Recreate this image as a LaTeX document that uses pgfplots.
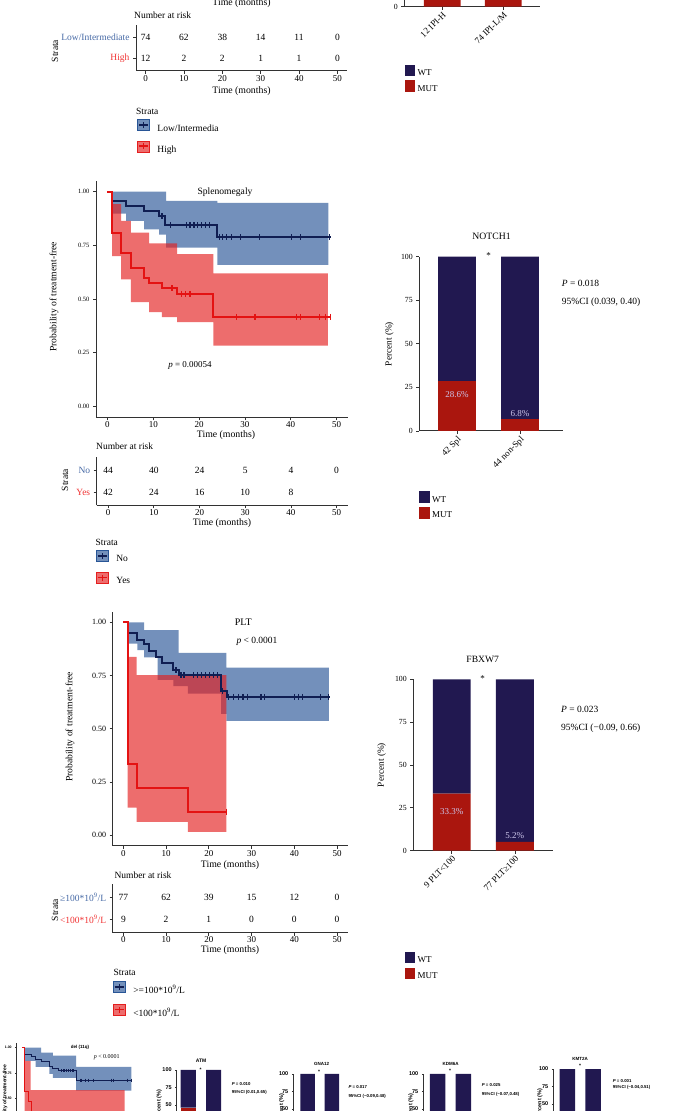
\documentclass[border=0pt]{standalone}
\usepackage{fontspec}
\setmainfont{Liberation Serif}
\newfontfamily\arialf{Liberation Sans}
\usepackage{pgfplots}
\pgfplotsset{compat=1.18}
\newcommand\fs[1]{\fontsize{#1}{#1}\selectfont}
\newcommand\tx[4]{\node[inner sep=0pt,#3] at (#1pt,#2pt) {#4};}
\definecolor{navyl}{RGB}{16,30,82}
\definecolor{redl}{RGB}{228,18,18}
\definecolor{bandb}{RGB}{40,85,150}
\definecolor{bandr}{RGB}{228,30,30}
\definecolor{wtc}{RGB}{33,24,80}
\definecolor{mutc}{RGB}{170,22,14}
\definecolor{axc}{RGB}{50,50,50}
\definecolor{bluelab}{RGB}{70,105,165}
\definecolor{redlab}{RGB}{240,50,50}
\definecolor{labc}{RGB}{205,198,235}
\pgfplotsset{
 gg/.style={scale only axis, axis x line=bottom, axis y line=left,
   axis line style={-, line width=1pt, draw=axc},
   tick align=outside, major tick length=3pt,
   every tick/.style={line width=0.7pt, draw=axc},
   tick label style={/pgf/number format/assume math mode=true}},
 km/.style={gg, xmin=-2.5, xmax=52.5, ymin=-0.05, ymax=1.05,
   xtick={0,10,20,30,40,50}, xticklabels={0,10,20,30,40,50},
   ytick={0,0.25,0.5,0.75,1}, yticklabels={0.00,0.25,0.50,0.75,1.00}},
 risk/.style={gg, xmin=-2.5, xmax=52.5, ymin=0.4, ymax=2.6,
   xtick={0,10,20,30,40,50}, xticklabels={0,10,20,30,40,50}, ytick={1,2},
   xticklabel style={font=\fs{9}, inner sep=1pt}, yticklabel style={font=\fs{9.5}},
   legend style={draw=none, fill=none, inner sep=0pt, outer sep=0pt, anchor=north west,
     font=\fs{9.5}, nodes={inner sep=0pt},
     /tikz/every odd column/.append style={column sep=7.7pt}},
   legend cell align=left},
 bars/.style={gg, ybar stacked, bar width=0.6, ymin=0, ymax=100, xtick={1,2},
   ytick={0,25,50,75,100}, yticklabels={0,25,50,75,100},
   yticklabel style={font=\fs{7.8}},
   xticklabel style={rotate=45, anchor=north east, font=\fs{9}, inner sep=1pt},
   legend style={draw=none, fill=none, inner sep=0pt, outer sep=0pt, anchor=north west,
     font=\fs{9}, nodes={inner sep=0pt}, row sep=3.6pt,
     /tikz/every odd column/.append style={column sep=3pt}},
   legend cell align=left},
 tiny/.style={axis line style={-, line width=0.5pt, draw=axc}, major tick length=1.5pt,
   every tick/.style={line width=0.4pt, draw=axc},
   yticklabel style={font=\arialf\bfseries\fs{5.5}}, xticklabels={}},
 nums/.style={only marks, mark=*, mark size=0pt, mark options={draw=none,fill=none},
   nodes near coords, point meta=explicit symbolic, forget plot,
   every node near coord/.append style={anchor=center, font=\fs{9.5}, text=black, inner sep=0pt}},
 legb/.style={legend image code/.code={
   \fill[bandb, fill opacity=0.65] (0pt,-2.2pt) rectangle (12.3pt,8.8pt);
   \draw[navyl, line width=1.5pt] (1.5pt,3.3pt) -- (10.8pt,3.3pt) (6.15pt,0.3pt) -- (6.15pt,6.3pt);}},
 legr/.style={legend image code/.code={
   \fill[bandr, fill opacity=0.65] (0pt,-2.2pt) rectangle (12.3pt,8.8pt);
   \draw[redl, line width=1.5pt] (1.5pt,3.3pt) -- (10.8pt,3.3pt) (6.15pt,0.3pt) -- (6.15pt,6.3pt);}},
 legwt/.style={legend image code/.code={\fill[wtc] (0pt,-2.35pt) rectangle (9.3pt,8.35pt);}},
 legmut/.style={legend image code/.code={\fill[mutc] (0pt,-2.35pt) rectangle (9.3pt,8.35pt);}},
 bandB/.style={fill=bandb, fill opacity=0.65, draw=none, forget plot},
 bandR/.style={fill=bandr, fill opacity=0.65, draw=none, forget plot},
}
\begin{document}
\begin{tikzpicture}
\begin{scope}
\clip (0pt,0pt) rectangle (689pt,1111pt);

% ---------- top risk table (cut panel) ----------
\begin{axis}[risk, at={(136pt,1040pt)}, width=211pt, height=46pt,
  yticklabels={\textcolor{redlab}{High},\textcolor{bluelab}{Low/Intermediate}},
  legend style={at={(axis description cs:0.005,-1.054)}, row sep=8pt}]
\addplot[nums] coordinates {(0,2)[74] (10,2)[62] (20,2)[38] (30,2)[14] (40,2)[11] (50,2)[0]
  (0,1)[12] (10,1)[2] (20,1)[2] (30,1)[1] (40,1)[1] (50,1)[0]};
\addlegendimage{legb}\addlegendentry{Low/Intermedia}
\addlegendimage{legr}\addlegendentry{High}
\end{axis}

% ---------- top-right bar (cut) ----------
\begin{axis}[bars, at={(404.3pt,1104.3pt)}, width=135.7pt, height=174.3pt, xmin=0.38, xmax=2.6,
  ytick={0}, yticklabels={0},
  xticklabels={12 IPI-H,74 IPI-L/M}, legend style={at={(axis description cs:0.005,-0.3325)}}]
\addplot[fill=mutc, draw=none, forget plot] coordinates {(1,16.7) (2,9.5)};
\addplot[fill=wtc, draw=none, forget plot] coordinates {(1,83.3) (2,90.5)};
\addlegendimage{legwt}\addlegendentry{WT}
\addlegendimage{legmut}\addlegendentry{MUT}
\end{axis}

% ---------- Splenomegaly KM ----------
\begin{axis}[km, at={(96pt,693.7pt)}, width=252pt, height=236.3pt,
  xticklabel style={font=\fs{9}, inner sep=1pt}, yticklabel style={font=\fs{6.5}}]
\addplot[bandB] coordinates {(0,1)(12.8,1)(12.8,0.957)(24,0.957)(24,0.948)(48.2,0.948)
  (48.2,0.659)(24,0.659)(24,0.74)(12.8,0.74)(12.8,0.80)(11.3,0.80)(11.3,0.825)(8,0.825)(8,0.864)(4.1,0.864)(4.1,0.898)(1,0.898)(1,1)(0,1)};
\addplot[bandR] coordinates {(0,1)(1,1)(1,0.942)(3,0.942)(3,0.864)(5.1,0.864)(5.1,0.81)(9.1,0.81)(9.1,0.76)(15.2,0.76)(15.2,0.71)(23.1,0.71)(23.1,0.62)(48.1,0.62)
  (48.1,0.284)(23.1,0.284)(23.1,0.393)(15.2,0.393)(15.2,0.416)(11.9,0.416)(11.9,0.44)(9.1,0.44)(9.1,0.486)(5.1,0.486)(5.1,0.592)(3,0.592)(3,0.70)(1,0.70)(1,1)(0,1)};
\addplot[const plot, navyl, line width=2pt, forget plot] coordinates {(0,1)(1,0.955)(4.1,0.932)(8,0.909)(11.3,0.886)(12.6,0.845)(24,0.789)(48.7,0.789)};
\addplot[only marks, mark=|, mark size=3pt, navyl, mark options={line width=1.2pt}, forget plot] coordinates {(11.9,0.886)(13.7,0.845)(17.2,0.845)(18.0,0.845)(18.9,0.845)(19.7,0.845)(20.6,0.845)(21.4,0.845)(22.3,0.845)(24.4,0.789)(25.1,0.789)(26.0,0.789)(27.1,0.789)(29.1,0.789)(33.1,0.789)(40.2,0.789)(42.1,0.789)(48.4,0.789)};
\addplot[const plot, redl, line width=2pt, forget plot] coordinates {(0,1)(1,0.81)(3,0.717)(5.1,0.643)(7.9,0.597)(9.1,0.573)(11.9,0.55)(15.2,0.525)(23.1,0.418)(48.7,0.418)};
\addplot[only marks, mark=|, mark size=3pt, redl, mark options={line width=1.2pt}, forget plot] coordinates {(14.1,0.55)(16.1,0.525)(17.1,0.525)(18.0,0.525)(28.1,0.418)(32.2,0.418)(41.2,0.418)(42.1,0.418)(46.2,0.418)(47.6,0.418)(48.6,0.418)};
\end{axis}

% ---------- Splenomegaly risk table ----------
\begin{axis}[risk, at={(96.7pt,605.7pt)}, width=251.3pt, height=48.6pt,
  yticklabels={\textcolor{redlab}{Yes},\textcolor{bluelab}{No}},
  legend style={at={(axis description cs:-0.003,-0.930)}, row sep=8.5pt}]
\addplot[nums] coordinates {(0,2)[44] (10,2)[40] (20,2)[24] (30,2)[5] (40,2)[4] (50,2)[0]
  (0,1)[42] (10,1)[24] (20,1)[16] (30,1)[10] (40,1)[8]};
\addlegendimage{legb}\addlegendentry{No}
\addlegendimage{legr}\addlegendentry{Yes}
\end{axis}

% ---------- NOTCH1 ----------
\begin{axis}[bars, at={(419.3pt,680pt)}, width=143.4pt, height=174.3pt, xmin=0.4, xmax=2.68,
  xticklabels={42 Spl,44 non-Spl}, legend style={at={(axis description cs:0,-0.346)}}]
\addplot[fill=mutc, draw=none, forget plot, nodes near coords, point meta=explicit symbolic,
  every node near coord/.append style={anchor=center, yshift=11pt, font=\fs{9}, text=labc}]
  coordinates {(1,28.6)[28.6\%] (2,6.8)[6.8\%]};
\addplot[fill=wtc, draw=none, forget plot] coordinates {(1,71.4) (2,93.2)};
\addlegendimage{legwt}\addlegendentry{WT}
\addlegendimage{legmut}\addlegendentry{MUT}
\end{axis}

% ---------- PLT KM ----------
\begin{axis}[km, at={(112.7pt,265pt)}, width=235pt, height=234.3pt,
  xticklabel style={font=\fs{9}, inner sep=1pt}, yticklabel style={font=\fs{8}}]
\addplot[bandB] coordinates {(0,1)(4.85,1)(4.85,0.964)(12.9,0.964)(12.9,0.857)(24.1,0.857)(24.1,0.788)(48.1,0.788)
  (48.1,0.537)(24.1,0.537)(24.1,0.57)(22.9,0.57)(22.9,0.665)(15.1,0.665)(15.1,0.70)(11.7,0.70)(11.7,0.73)(8,0.73)(8,0.835)(4.85,0.835)(4.85,0.87)(3.3,0.87)(3.3,0.90)(1,0.90)(1,1)(0,1)};
\addplot[bandR] coordinates {(0,1)(1,1)(1,0.838)(3.1,0.838)(3.1,0.752)(24.1,0.752)
  (24.1,0.016)(15.1,0.016)(15.1,0.063)(3.1,0.063)(3.1,0.13)(1,0.13)(1,1)(0,1)};
\addplot[const plot, navyl, line width=2pt, forget plot] coordinates {(0,1)(1,0.951)(3.3,0.917)(4.85,0.898)(6.1,0.865)(7.7,0.835)(9.15,0.81)(11.7,0.776)(13.1,0.751)(22.9,0.677)(24.2,0.65)(48.4,0.65)};
\addplot[only marks, mark=|, mark size=3pt, navyl, mark options={line width=1.2pt}, forget plot] coordinates {(12.3,0.776)(13.5,0.751)(14.2,0.751)(16.4,0.751)(17.3,0.751)(18.3,0.751)(19.2,0.751)(20.2,0.751)(21.1,0.751)(22.0,0.751)(23.2,0.677)(24.6,0.65)(25.8,0.65)(27.0,0.65)(28.0,0.65)(29.1,0.65)(32.2,0.65)(33.1,0.65)(40.1,0.65)(41.0,0.65)(42.0,0.65)(46.1,0.65)(48.1,0.65)};
\addplot[const plot, redl, line width=2pt, forget plot] coordinates {(0,1)(1,0.333)(3.1,0.222)(15.1,0.111)(24.2,0.111)};
\addplot[only marks, mark=|, mark size=3pt, redl, mark options={line width=1.2pt}, forget plot] coordinates {(24.2,0.111)};
\end{axis}

% ---------- PLT risk table ----------
\begin{axis}[risk, at={(112.7pt,178.3pt)}, width=235pt, height=48.4pt,
  yticklabels={\textcolor{redlab}{<100*10\textsuperscript{9}/L},\textcolor{bluelab}{≥100*10\textsuperscript{9}/L}},
  legend style={at={(axis description cs:0.001,-1.002)}, row sep=8.8pt}]
\addplot[nums] coordinates {(0,2)[77] (10,2)[62] (20,2)[39] (30,2)[15] (40,2)[12] (50,2)[0]
  (0,1)[9] (10,1)[2] (20,1)[1] (30,1)[0] (40,1)[0] (50,1)[0]};
\addlegendimage{legb}\addlegendentry{>=100*10\textsuperscript{9}/L}
\addlegendimage{legr}\addlegendentry{<100*10\textsuperscript{9}/L}
\end{axis}

% ---------- FBXW7 ----------
\begin{axis}[bars, at={(413.3pt,260.3pt)}, width=139.4pt, height=171.4pt, xmin=0.39, xmax=2.6,
  xticklabels={9 PLT<100,77 PLT≥100}, legend style={at={(axis description cs:-0.0595,-0.589)}}]
\addplot[fill=mutc, draw=none, forget plot, nodes near coords, point meta=explicit symbolic,
  every node near coord/.append style={anchor=center, yshift=11pt, font=\fs{9}, text=labc}]
  coordinates {(1,33.3)[33.3\%] (2,5.2)[5.2\%]};
\addplot[fill=wtc, draw=none, forget plot] coordinates {(1,66.7) (2,94.8)};
\addlegendimage{legwt}\addlegendentry{WT}
\addlegendimage{legmut}\addlegendentry{MUT}
\end{axis}

% ---------- del(11q) small KM (cut) ----------
\begin{axis}[km, tiny, at={(16.7pt,-42.8pt)}, width=125pt, height=111.2pt,
  ytick={0.5,0.75,1}, yticklabels={0.50,0.75,1.00}, xtick={}, 
  yticklabel style={font=\arialf\bfseries\fs{3.5}}]
\addplot[bandB] coordinates {(0,1)(8.3,1)(8.3,0.95)(13.4,0.95)(13.4,0.92)(23.6,0.92)(23.6,0.81)(48,0.81)
  (48,0.574)(23.6,0.574)(23.6,0.70)(13.4,0.70)(13.4,0.74)(11.9,0.74)(11.9,0.81)(5.8,0.81)(5.8,0.87)(1,0.87)(1,1)(0,1)};
\addplot[bandR] coordinates {(0,1)(1,1)(1,0.87)(3.6,0.87)(3.6,0.58)(45,0.58)
  (45,0.1)(3.6,0.1)(3.6,0.3)(1,0.3)(1,1)(0,1)};
\addplot[const plot, navyl, line width=1pt, forget plot] coordinates {(0,1)(1,0.937)(3.9,0.91)(5.8,0.886)(8.3,0.862)(11.9,0.81)(13.4,0.79)(16,0.77)(23.6,0.68)(48,0.68)};
\addplot[only marks, mark=|, mark size=1.5pt, navyl, mark options={line width=0.6pt}, forget plot] coordinates {(17,0.77)(17.8,0.77)(18.6,0.77)(19.4,0.77)(20.2,0.77)(21,0.77)(21.8,0.77)(22.6,0.77)(25.3,0.68)(26,0.68)(27.5,0.68)(28.9,0.68)(31.1,0.68)(39.1,0.68)(39.9,0.68)(46,0.68)(48,0.68)};
\addplot[const plot, redl, line width=1pt, forget plot] coordinates {(0,1)(1,0.57)(2.5,0.47)(4,0.30)(8,0.2)(30,0.2)};
\end{axis}

% ---------- small bar panels (cut) ----------
\begin{axis}[bars, tiny, at={(176.7pt,-29pt)}, width=52.1pt, height=70pt, xmin=0.54, xmax=2.6,
  ytick={50,75,100}, yticklabels={50,75,100}]
\addplot[fill=mutc, draw=none, forget plot, nodes near coords, point meta=explicit symbolic,
  every node near coord/.append style={anchor=center, yshift=5.4pt, font=\arialf\fs{4}, text=labc}]
  coordinates {(1,46.2)[46.2\%] (2,0)[]};
\addplot[fill=wtc, draw=none, forget plot] coordinates {(1,53.8) (2,100)};
\end{axis}
\begin{axis}[bars, tiny, at={(293.3pt,-33pt)}, width=53pt, height=70pt, xmin=0.41, xmax=2.6,
  ytick={50,75,100}, yticklabels={50,75,100}]
\addplot[fill=mutc, draw=none, forget plot] coordinates {(1,15) (2,2)};
\addplot[fill=wtc, draw=none, forget plot] coordinates {(1,85) (2,98)};
\end{axis}
\begin{axis}[bars, tiny, at={(423.3pt,-33pt)}, width=55.5pt, height=70pt, xmin=0.44, xmax=2.6,
  ytick={50,75,100}, yticklabels={50,75,100}]
\addplot[fill=mutc, draw=none, forget plot] coordinates {(1,12) (2,2)};
\addplot[fill=wtc, draw=none, forget plot] coordinates {(1,88) (2,98)};
\end{axis}
\begin{axis}[bars, tiny, at={(553.3pt,-28pt)}, width=55.3pt, height=70pt, xmin=0.45, xmax=2.6,
  ytick={50,75,100}, yticklabels={50,75,100}]
\addplot[fill=mutc, draw=none, forget plot] coordinates {(1,10) (2,1)};
\addplot[fill=wtc, draw=none, forget plot] coordinates {(1,90) (2,99)};
\end{axis}

% ---------- texts ----------
\tx{241.5}{1108}{font=\fs{9.8}}{Time (months)}
\tx{134}{1096}{anchor=west,font=\fs{9.5}}{Number at risk}
\tx{55}{1060}{rotate=90,font=\fs{9.5}}{Strata}
\tx{241.5}{1020}{font=\fs{9.8}}{Time (months)}
\tx{136}{1000}{anchor=west,font=\fs{9.5}}{Strata}
\tx{225}{918.3}{font=\fs{9.6}}{Splenomegaly}
\tx{190}{746}{font=\fs{9}}{{\itshape p} = 0.00054}
\tx{54}{814.3}{rotate=90,font=\fs{9.6}}{Probability of treatment-free}
\tx{226}{676.3}{font=\fs{9.8}}{Time (months)}
\tx{96}{664.3}{anchor=west,font=\fs{9.5}}{Number at risk}
\tx{65}{631}{rotate=90,font=\fs{9.5}}{Strata}
\tx{222}{587.7}{font=\fs{9.8}}{Time (months)}
\tx{95.5}{568.3}{anchor=west,font=\fs{9.5}}{Strata}
\tx{491.5}{874.3}{font=\fs{9.7}}{NOTCH1}
\tx{488.7}{855.3}{font=\fs{9}}{*}
\tx{561.7}{827.7}{anchor=west,font=\fs{9.5}}{{\itshape P} = 0.018}
\tx{561.7}{808.7}{anchor=west,font=\fs{9.5}}{95\%CI (0.039, 0.40)}
\tx{389.3}{767}{rotate=90,font=\fs{9.3}}{Percent (\%)}
\tx{243.3}{488.7}{font=\fs{10}}{PLT}
\tx{257}{470}{font=\fs{9.5}}{{\itshape p} < 0.0001}
\tx{70}{384}{rotate=90,font=\fs{9.6}}{Probability of treatment-free}
\tx{230}{246}{font=\fs{9.8}}{Time (months)}
\tx{114.3}{236}{anchor=west,font=\fs{9.5}}{Number at risk}
\tx{55}{201}{rotate=90,font=\fs{9.5}}{Strata}
\tx{230}{161}{font=\fs{9.8}}{Time (months)}
\tx{113.3}{138.3}{anchor=west,font=\fs{9.5}}{Strata}
\tx{482.7}{452}{font=\fs{9.6}}{FBXW7}
\tx{482.7}{432.3}{font=\fs{9}}{*}
\tx{561}{401.7}{anchor=west,font=\fs{9.5}}{{\itshape P} = 0.023}
\tx{561}{383}{anchor=west,font=\fs{9.5}}{95\%CI (−0.09, 0.66)}
\tx{381.7}{346}{rotate=90,font=\fs{9.3}}{Percent (\%)}
\tx{80}{63.3}{font=\arialf\bfseries\fs{4.5}}{del (11q)}
\tx{106.7}{54.3}{font=\fs{6}}{{\itshape p} < 0.0001}
\tx{5}{13}{rotate=90,font=\arialf\bfseries\fs{5}}{Probability of treatment-free}
\tx{201}{50.3}{font=\arialf\bfseries\fs{5}}{ATM}
\tx{200.7}{41.5}{font=\arialf\bfseries\fs{5}}{*}
\tx{231.7}{27}{anchor=west,font=\arialf\bfseries\fs{4.3}}{{\itshape P} = 0.010}
\tx{231.7}{18.3}{anchor=west,font=\arialf\bfseries\fs{4.3}}{95\%CI (0.01,0.65)}
\tx{159.3}{6}{rotate=90,font=\arialf\bfseries\fs{5.5}}{Percent (\%)}
\tx{321.7}{46.7}{font=\arialf\bfseries\fs{4.5}}{GNA12}
\tx{319}{39.5}{font=\arialf\bfseries\fs{5}}{*}
\tx{348.3}{23.7}{anchor=west,font=\arialf\bfseries\fs{4.3}}{{\itshape P} = 0.017}
\tx{348.3}{14.3}{anchor=west,font=\arialf\bfseries\fs{4.3}}{95\%CI (−0.09,0.48)}
\tx{281.7}{2}{rotate=90,font=\arialf\bfseries\fs{5.5}}{Percent (\%)}
\tx{450.7}{46.7}{font=\arialf\bfseries\fs{4.5}}{KDM6A}
\tx{450}{40.5}{font=\arialf\bfseries\fs{5}}{*}
\tx{481.7}{26}{anchor=west,font=\arialf\bfseries\fs{4.3}}{{\itshape P} = 0.025}
\tx{481.7}{16.7}{anchor=west,font=\arialf\bfseries\fs{4.3}}{95\%CI (−0.07,0.48)}
\tx{411}{2}{rotate=90,font=\arialf\bfseries\fs{5.5}}{Percent (\%)}
\tx{580}{52}{font=\arialf\bfseries\fs{4.5}}{KMT2A}
\tx{580}{44.8}{font=\arialf\bfseries\fs{5}}{*}
\tx{612.7}{30.3}{anchor=west,font=\arialf\bfseries\fs{4.3}}{{\itshape P} = 0.001}
\tx{612.7}{23.3}{anchor=west,font=\arialf\bfseries\fs{4.3}}{95\%CI (−0.04,0.51)}
\tx{540}{7}{rotate=90,font=\arialf\bfseries\fs{5.5}}{Percent (\%)}
\end{scope}
\pgfresetboundingbox
\path[use as bounding box] (0pt,0pt) rectangle (689pt,1111pt);
\end{tikzpicture}
\end{document}
